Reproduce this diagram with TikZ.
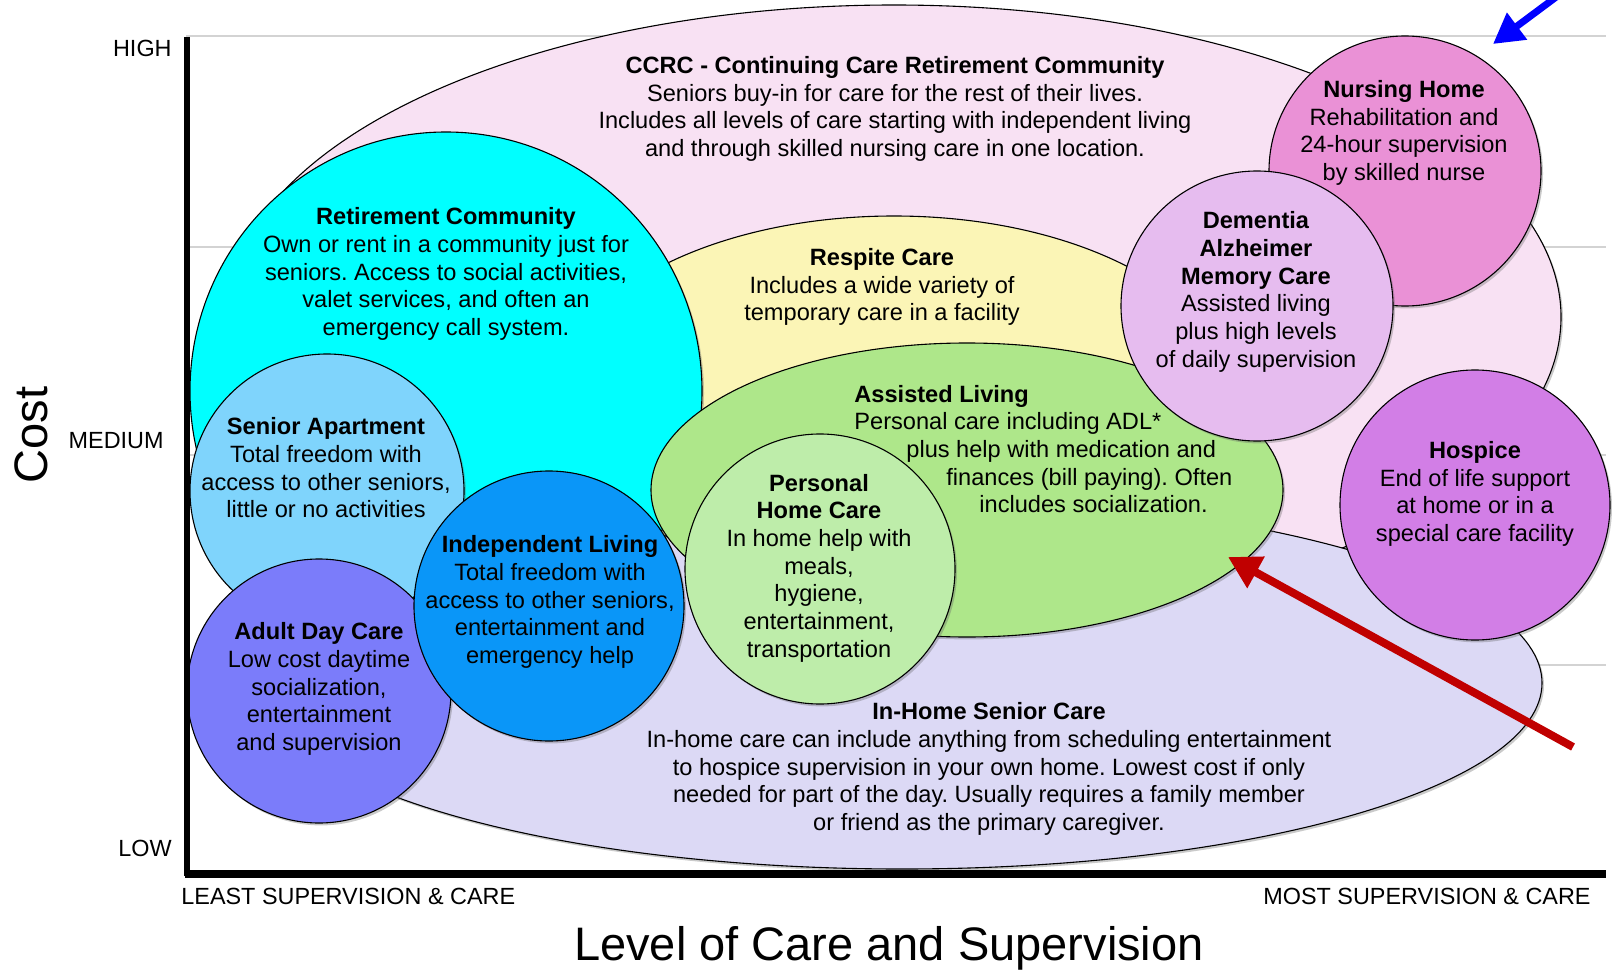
\documentclass[tikz,border=0pt]{standalone}
\usepackage{fontspec}
\setmainfont{Liberation Sans}
\usetikzlibrary{shapes.geometric,shadows,arrows.meta}
\definecolor{ccrcC}{HTML}{F8E1F3}
\definecolor{inhomeC}{HTML}{DCD9F5}
\definecolor{respiteC}{HTML}{FBF5B6}
\definecolor{retireC}{HTML}{00FFFF}
\definecolor{assistC}{HTML}{AEE78A}
\definecolor{aptC}{HTML}{7FD4FC}
\definecolor{adultC}{HTML}{7B7CFA}
\definecolor{indepC}{HTML}{0A96F8}
\definecolor{phcC}{HTML}{BEEDAA}
\definecolor{nursC}{HTML}{EA91D6}
\definecolor{demC}{HTML}{E6BCEF}
\definecolor{hospC}{HTML}{D27EE6}
\definecolor{gridC}{HTML}{D3D3D3}
\definecolor{redA}{HTML}{C00000}
\definecolor{blueA}{HTML}{0000FF}
\frenchspacing
\tikzset{
  bub/.style={ellipse, draw=black, line width=0.55pt, inner sep=0pt, outer sep=0pt,
    drop shadow={shadow xshift=1pt, shadow yshift=-1.2pt, opacity=0.35, fill=black!60}},
  txt/.style={align=center, inner sep=0pt, font=\fontsize{11.8}{13.85}\selectfont},
  lab/.style={inner sep=0pt, font=\fontsize{11.7}{13.85}\selectfont},
  big/.style={inner sep=0pt, font=\fontsize{23.5}{27}\selectfont},
  gridline/.style={draw=gridC, line width=1pt},
}
\begin{document}
\begin{tikzpicture}[x=0.5pt, y=-0.5pt]
\useasboundingbox (0,0) rectangle (1612,974);
\clip (0,0) rectangle (1612,974);
% grid lines
\draw[gridline] (186,36) -- (1606,36);
\draw[gridline] (186,247) -- (1606,247);
\draw[gridline] (186,455) -- (1606,455);
\draw[gridline] (186,665) -- (1606,665);
% bubbles
\node[bub, fill=ccrcC, minimum width=667pt, minimum height=312pt] (ccrc) at (894,317) {};
\node[bub, fill=inhomeC, minimum width=640pt, minimum height=186pt] (inhome) at (902,683) {};
\node[bub, fill=respiteC, minimum width=339pt, minimum height=184pt] (respite) at (894,400) {};
\node[bub, fill=retireC, minimum width=256pt, minimum height=259pt] (retire) at (446,391) {};
\node[bub, fill=assistC, minimum width=316pt, minimum height=147pt] (assist) at (967,490) {};
\node[bub, fill=aptC, minimum width=137pt, minimum height=137pt] (apt) at (327,491) {};
\node[bub, fill=adultC, minimum width=132pt, minimum height=132pt] (adult) at (319,691) {};
\node[bub, fill=indepC, minimum width=135pt, minimum height=135pt] (indep) at (549,606) {};
\node[bub, fill=phcC, minimum width=135pt, minimum height=135pt] (phc) at (820,569) {};
\node[bub, fill=nursC, minimum width=136pt, minimum height=135pt] (nurs) at (1405,171) {};
\node[bub, fill=demC, minimum width=136pt, minimum height=135pt] (dem) at (1257,306) {};
\node[bub, fill=hospC, minimum width=135pt, minimum height=135pt] (hosp) at (1475,505) {};
% axes
\draw[line width=3pt] (187,37) -- (187,876);
\draw[line width=4pt] (185,874) -- (1606,874);
% texts
\node[txt] (ccrcT) at (895,109) {\textbf{CCRC - Continuing Care Retirement Community}\\Seniors buy-in for care for the rest of their lives.\\Includes all levels of care starting with independent living\\and through skilled nursing care in one location.};
\node[txt] (retireT) at (446,274) {\textbf{Retirement Community}\\Own or rent in a community just for\\seniors. Access to social activities,\\valet services, and often an\\emergency call system.};
\node[txt] (respiteT) at (882,287) {\textbf{Respite Care}\\Includes a wide variety of\\temporary care in a facility};
\node[txt] (aptT) at (326,468) {\textbf{Senior Apartment}\\Total freedom with\\access to other seniors,\\little or no activities};
\node[txt, align=left, anchor=west] (assistT) at (854,449) {\textbf{Assisted Living}\\Personal care including ADL*\\\hspace*{26pt}plus help with medication and\\\hspace*{46pt}finances (bill paying). Often\\\hspace*{62.5pt}includes socialization.};
\node[txt] (phcT) at (819,568) {\textbf{Personal}\\\textbf{Home Care}\\In home help with\\meals,\\hygiene,\\entertainment,\\transportation};
\node[txt] (indepT) at (550,602) {\textbf{Independent Living}\\Total freedom with\\access to other seniors,\\entertainment and\\emergency help};
\node[txt] (adultT) at (319,689) {\textbf{Adult Day Care}\\Low cost daytime\\socialization,\\entertainment\\and supervision};
\node[txt] (nursT) at (1404,133) {\textbf{Nursing Home}\\Rehabilitation and\\24-hour supervision\\by skilled nurse};
\node[txt] (demT) at (1256,292) {\textbf{Dementia}\\\textbf{Alzheimer}\\\textbf{Memory Care}\\Assisted living\\plus high levels\\of daily supervision};
\node[txt] (hospT) at (1475,494) {\textbf{Hospice}\\End of life support\\at home or in a\\special care facility};
\node[txt] (inhomeT) at (989,769) {\textbf{In-Home Senior Care}\\In-home care can include anything from scheduling entertainment\\to hospice supervision in your own home. Lowest cost if only\\needed for part of the day. Usually requires a family member\\or friend as the primary caregiver.};
% axis labels
\node[lab, anchor=east] (high) at (172,48) {HIGH};
\node[lab, anchor=east] (medium) at (164,441) {MEDIUM};
\node[lab, anchor=east] (low) at (172,848) {LOW};
\node[lab, anchor=west] (least) at (181,896) {LEAST SUPERVISION \& CARE};
\node[lab, anchor=east] (most) at (1591,896) {MOST SUPERVISION \& CARE};
\node[big, rotate=90] (cost) at (31,435) {Cost};
\node[big] (level) at (889,948) {Level of Care and Supervision};
% arrows
\coordinate (redTail) at (1573,747);
\coordinate (redHead) at (1228,557);
\draw[redA, line width=4pt, -{Triangle[length=16pt,width=17pt]}] (redTail) -- (redHead);
\coordinate (blueTail) at (1579,-20);
\coordinate (blueHead) at (1493,44);
\draw[blueA, line width=3.5pt, -{Triangle[length=15pt,width=16pt]}] (blueTail) -- (blueHead);
\end{tikzpicture}
\end{document}
